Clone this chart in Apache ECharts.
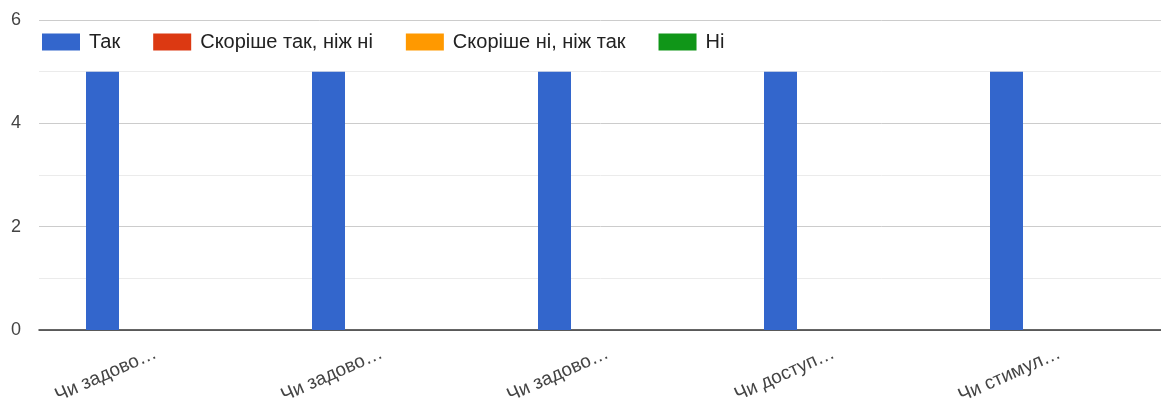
<!DOCTYPE html>
<html><head><meta charset="utf-8">
<script src="https://cdn.jsdelivr.net/npm/echarts@6/dist/echarts.min.js"></script>
<style>html,body{margin:0;padding:0;background:#fff}#c{width:1161px;height:404px}</style>
</head><body><div id="c"></div>
<script>
var categories = ["Чи задово…", "Чи задово…", "Чи задово…", "Чи доступ…", "Чи стимул…"];
var seriesNames = ["Так", "Скоріше так, ніж ні", "Скоріше ні, ніж так", "Ні"];
var valuesTak = [5, 5, 5, 5, 5];
var valuesRatherYes = [0, 0, 0, 0, 0];
var valuesRatherNo = [0, 0, 0, 0, 0];
var valuesNo = [0, 0, 0, 0, 0];
var yTicks = [0, 2, 4, 6];
var colors = ["#3366cc", "#dc3912", "#ff9900", "#109618"];

var allValues = [valuesTak, valuesRatherYes, valuesRatherNo, valuesNo];
var chart = echarts.init(document.getElementById('c'));
chart.setOption({
  animation: false,
  textStyle: {fontFamily: 'Arial, "Liberation Sans", sans-serif'},
  color: colors,
  legend: {
    left: 37, top: 32, padding: [0, 5],
    itemWidth: 38, itemHeight: 17, itemGap: 33,
    icon: 'rect',
    textStyle: {fontSize: 20, color: '#222', padding: [0,0,0,4]},
    data: seriesNames
  },
  grid: {left: 39, right: -8, top: 20, bottom: 74, containLabel: false, outerBoundsMode: 'none'},
  xAxis: {
    type: 'category', data: categories,
    axisTick: {show: false},
    axisLine: {lineStyle: {color: '#333', width: 1.5}},
    axisLabel: {rotate: 24, fontSize: 19, color: '#444', margin: 24, padding: [0, -4, 0, 0]}
  },
  yAxis: {
    type: 'value', min: yTicks[0], max: yTicks[yTicks.length-1], interval: 2,
    axisLine: {show: false}, axisTick: {show: false},
    axisLabel: {fontSize: 18, color: '#444', margin: 18},
    splitLine: {lineStyle: {color: '#cccccc', width: 1}},
    minorTick: {show: false, splitNumber: 2},
    minorSplitLine: {show: true, lineStyle: {color: '#ebebeb', width: 1}}
  },
  series: seriesNames.map(function(n, i){
    return {name: n, type: 'bar', data: allValues[i], barWidth: 33, barGap: '0%'};
  })
});
</script></body></html>
